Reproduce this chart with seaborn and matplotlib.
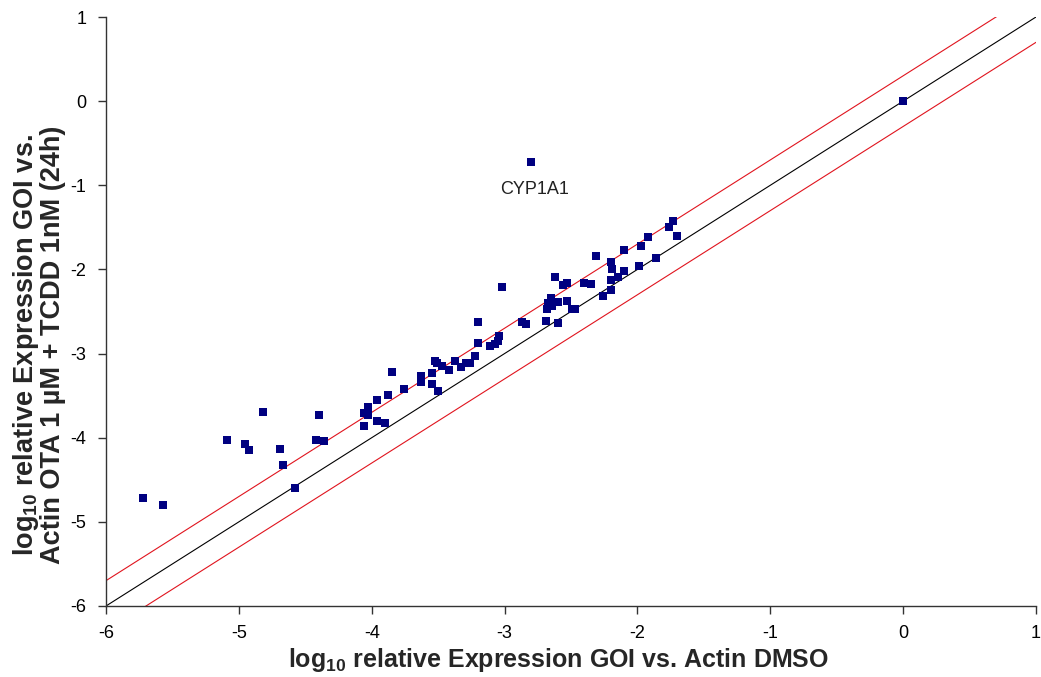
import numpy as np
import pandas as pd
import matplotlib
matplotlib.use("Agg")
import matplotlib.pyplot as plt
import seaborn as sns

# log10 relative expression (gene of interest vs. actin)
dmso = [-5.72, -5.57, -5.09, -4.95, -4.92, -4.82, -4.69, -4.67, -4.58, -4.40,
        -4.42, -4.36, -4.06, -4.06, -4.03, -4.03, -3.96, -3.88, -3.96, -3.90,
        -3.85, -3.76, -3.63, -3.63, -3.55, -3.55, -3.50, -3.52, -3.51, -3.47,
        -3.42, -3.37, -3.33, -3.29, -3.26, -3.22, -3.20, -3.20, -3.11, -3.07,
        -3.05, -3.04, -3.02, -2.87, -2.84, -2.69, -2.60, -2.62, -2.56, -2.53,
        -2.65, -2.67, -2.64, -2.68, -2.60, -2.53, -2.49, -2.47, -2.40, -2.35,
        -2.31, -2.26, -2.20, -2.19, -2.20, -2.15, -2.10, -2.20, -2.10, -1.99,
        -1.97, -1.92, -1.86, -1.76, -1.73, -1.70, -2.80, 0.00]
ota_tcdd = [-4.72, -4.80, -4.03, -4.08, -4.15, -3.69, -4.14, -4.32, -4.60, -3.73,
            -4.03, -4.04, -3.86, -3.71, -3.73, -3.64, -3.55, -3.49, -3.80, -3.82,
            -3.22, -3.42, -3.27, -3.34, -3.23, -3.36, -3.44, -3.09, -3.11, -3.15,
            -3.19, -3.09, -3.16, -3.11, -3.11, -3.03, -2.88, -2.63, -2.91, -2.89,
            -2.85, -2.79, -2.21, -2.63, -2.65, -2.61, -2.64, -2.09, -2.19, -2.16,
            -2.34, -2.40, -2.44, -2.47, -2.39, -2.37, -2.47, -2.47, -2.16, -2.17,
            -1.84, -2.31, -1.91, -2.00, -2.12, -2.09, -2.02, -2.25, -1.77, -1.96,
            -1.72, -1.62, -1.87, -1.50, -1.43, -1.60, -0.72, 0.00]

label_gene = "CYP1A1"
label_xy = (-2.775, -1.045)

ticks = [-6, -5, -4, -3, -2, -1, 0, 1]
limits = (-6, 1)
fold_band = np.log10(2)   # two-fold change

sns.set_style("white")
plt.rcParams["font.family"] = ["Liberation Sans", "DejaVu Sans"]
plt.rcParams["mathtext.fontset"] = "custom"
plt.rcParams["mathtext.rm"] = "Liberation Sans"
plt.rcParams["mathtext.bf"] = "Liberation Sans:bold"

df = pd.DataFrame({"dmso": dmso, "ota_tcdd": ota_tcdd})

fig = plt.figure(figsize=(10.41, 6.77), dpi=100)
ax = fig.add_axes([106 / 1041, 1 - 606 / 677, 930 / 1041, 589 / 677])

ref_x = np.array(limits, dtype=float)
ax.plot(ref_x, ref_x, color="black", lw=0.8, zorder=1)
ax.plot(ref_x, ref_x + fold_band, color="#e0141e", lw=0.8, zorder=1)
ax.plot(ref_x, ref_x - fold_band, color="#e0141e", lw=0.8, zorder=1)

sns.scatterplot(data=df, x="dmso", y="ota_tcdd", ax=ax, marker="s", s=34,
                color="#000080", edgecolor="#000080", linewidth=0, zorder=3)

ax.text(label_xy[0], label_xy[1], label_gene, ha="center", va="center",
        fontsize=13, color="#222222")

ax.set_xlim(limits)
ax.set_ylim(limits)
ax.set_xticks(ticks)
ax.set_yticks(ticks)
ax.set_xticklabels([str(t) for t in ticks])
ax.set_yticklabels([str(t) for t in ticks])
ax.tick_params(axis="both", direction="out", length=6, width=1, color="#333333",
               labelsize=13, labelcolor="black", pad=8, bottom=True, left=True)

for side in ("top", "right"):
    ax.spines[side].set_visible(False)
for side in ("left", "bottom"):
    ax.spines[side].set_color("#333333")
    ax.spines[side].set_linewidth(1)

ax.set_xlabel(r"log$_{\mathbf{10}}$ relative Expression GOI vs. Actin DMSO",
              fontsize=18, fontweight="bold")
ax.set_ylabel("log$_{\\mathbf{10}}$ relative Expression GOI vs.\n"
              "Actin OTA 1 µM + TCDD 1nM (24h)",
              fontsize=19.5, fontweight="bold", linespacing=0.95)
ax.xaxis.set_label_coords(0.486, -0.068)
ax.yaxis.set_label_coords(-0.043, 0.443)

fig.savefig("out.png", dpi=100, facecolor="white")
